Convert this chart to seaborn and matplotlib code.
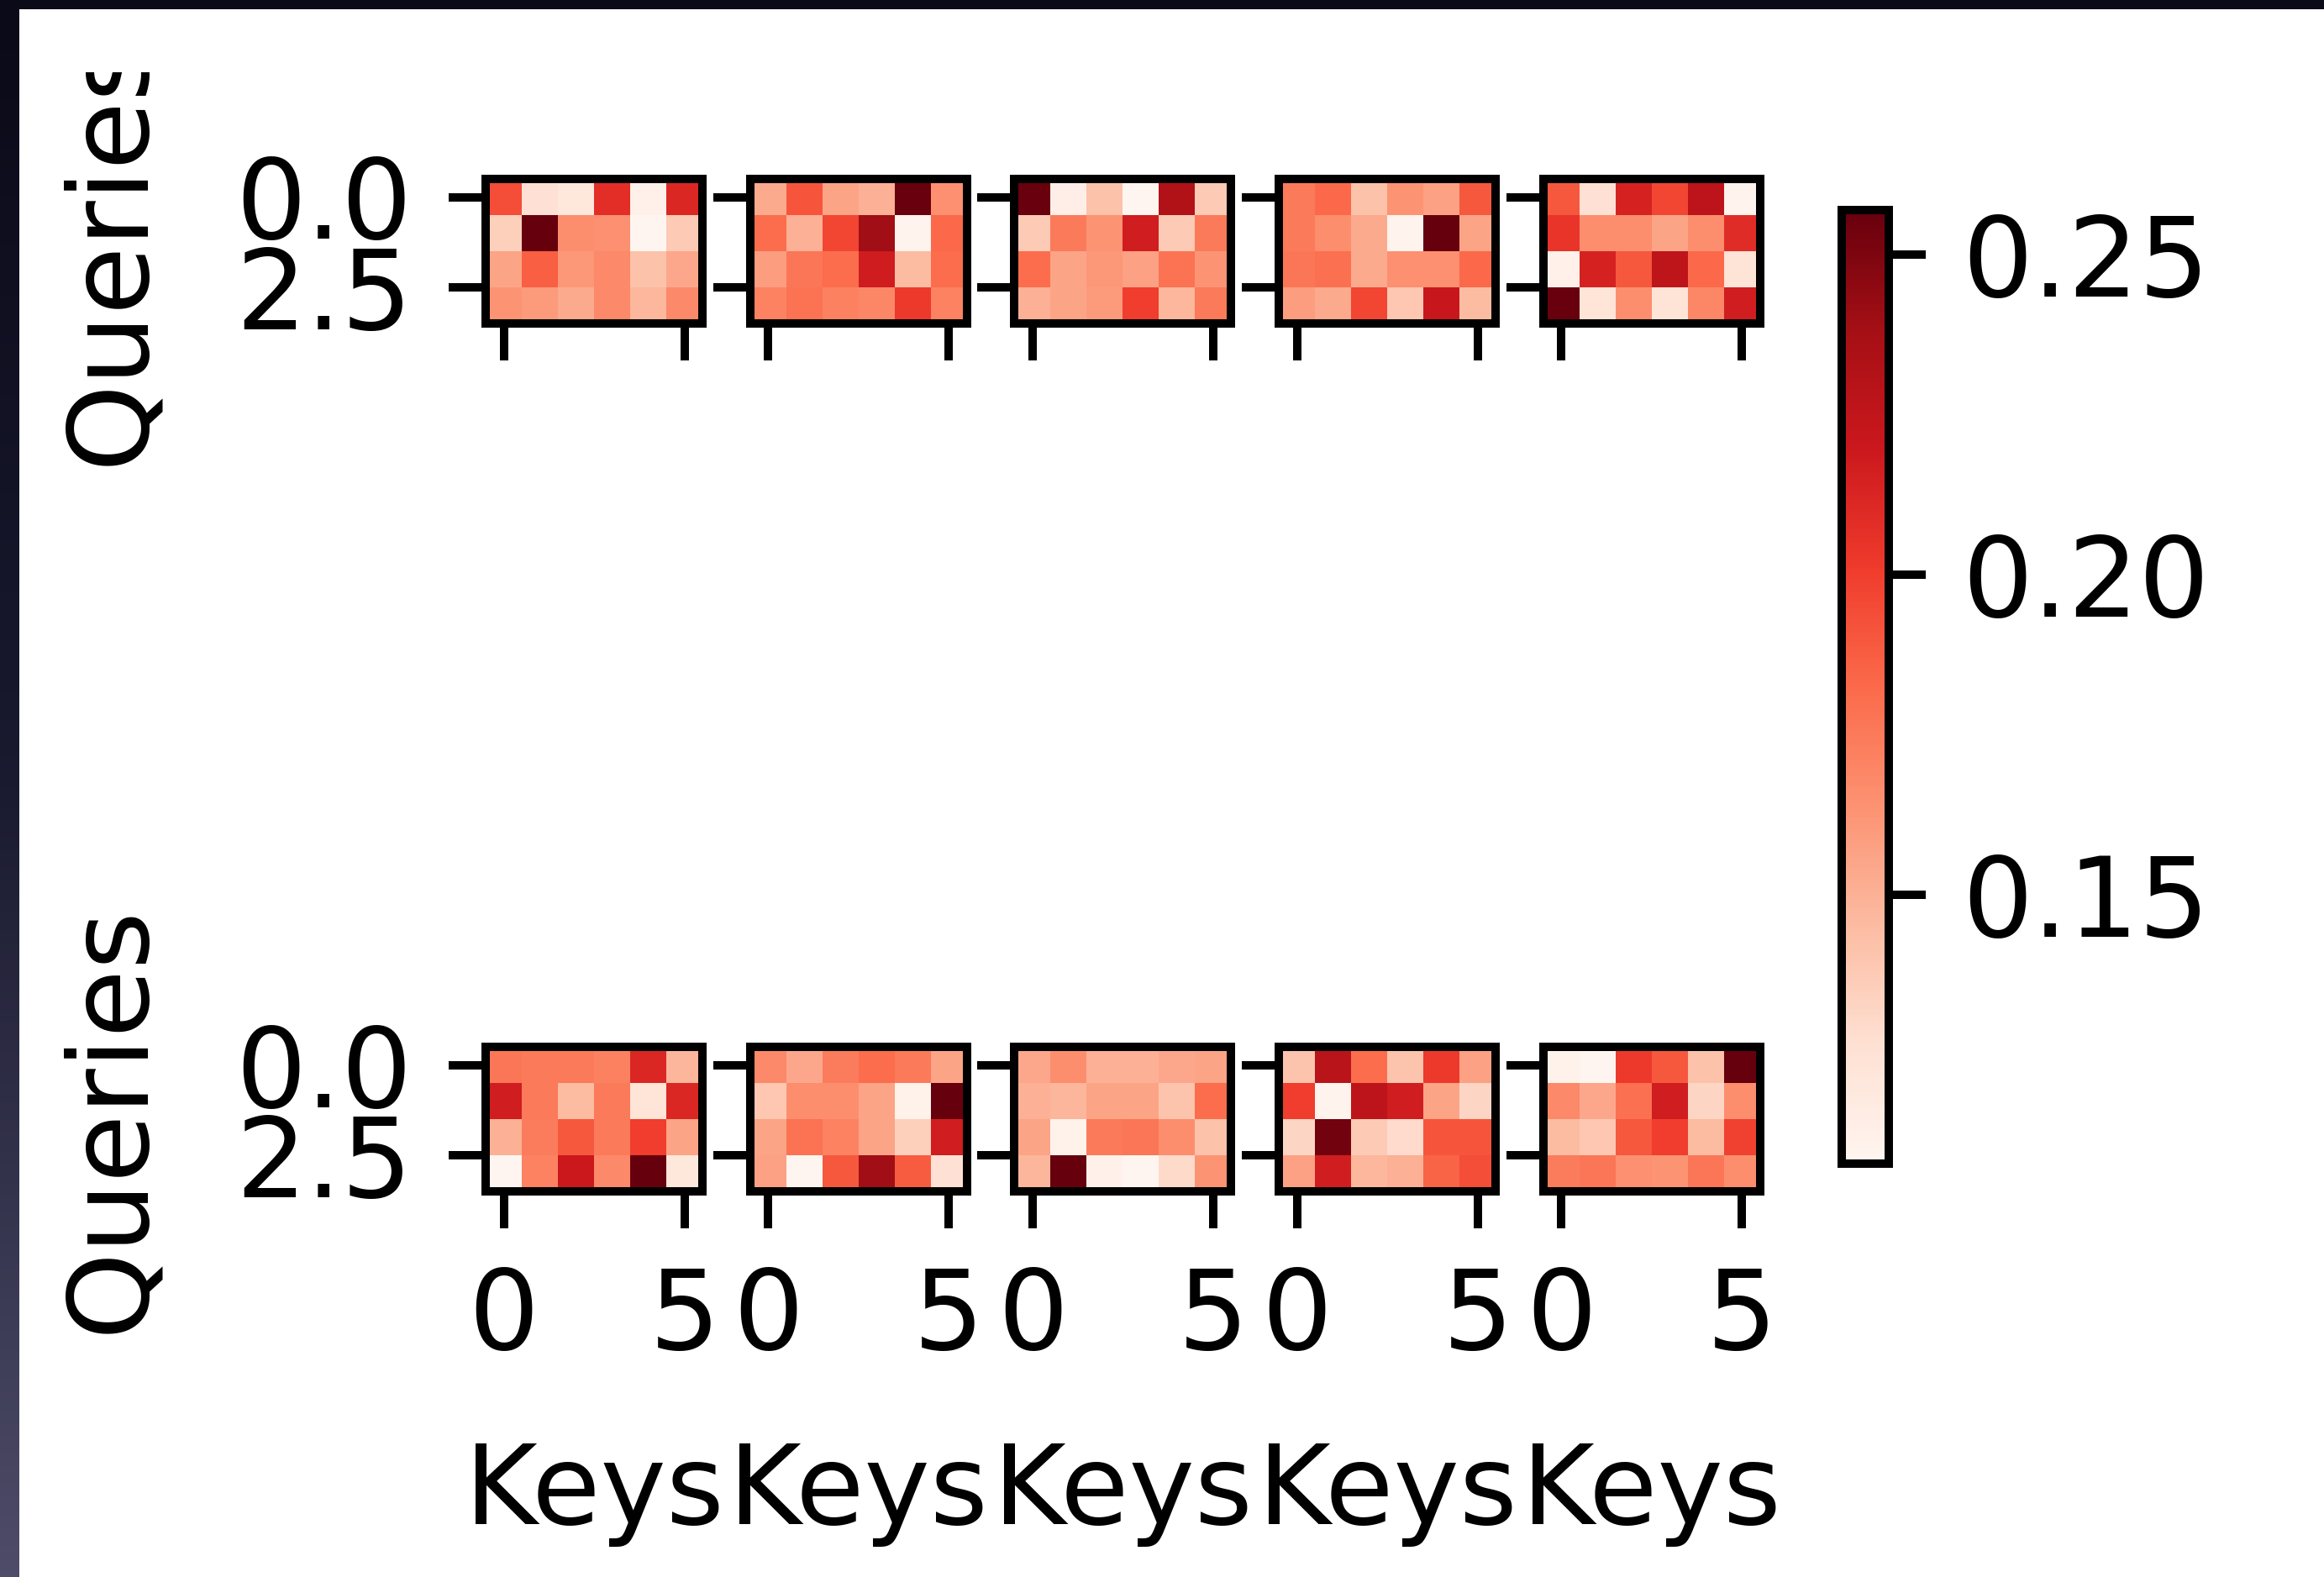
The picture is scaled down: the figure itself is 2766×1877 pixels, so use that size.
import numpy as np
import matplotlib
matplotlib.use("Agg")
import matplotlib.pyplot as plt
import seaborn as sns
from matplotlib.patches import Rectangle
from matplotlib.colors import LinearSegmentedColormap

# attention weights: 2 rows x 5 heads, each 4 queries x 6 keys
top_1 = [[0.194, 0.126, 0.121, 0.208, 0.112, 0.212],
         [0.135, 0.257, 0.166, 0.165, 0.108, 0.138],
         [0.156, 0.187, 0.162, 0.168, 0.142, 0.154],
         [0.163, 0.160, 0.153, 0.168, 0.147, 0.168]]
top_2 = [[0.153, 0.191, 0.156, 0.150, 0.256, 0.165],
         [0.181, 0.150, 0.197, 0.239, 0.110, 0.183],
         [0.159, 0.177, 0.181, 0.218, 0.145, 0.181],
         [0.171, 0.178, 0.172, 0.169, 0.202, 0.171]]
top_3 = [[0.256, 0.114, 0.142, 0.108, 0.233, 0.138],
         [0.138, 0.175, 0.163, 0.217, 0.138, 0.175],
         [0.181, 0.156, 0.162, 0.157, 0.178, 0.163],
         [0.150, 0.156, 0.160, 0.200, 0.147, 0.175]]
top_4 = [[0.175, 0.183, 0.142, 0.163, 0.157, 0.190],
         [0.175, 0.166, 0.153, 0.110, 0.257, 0.156],
         [0.177, 0.180, 0.153, 0.165, 0.165, 0.183],
         [0.159, 0.153, 0.197, 0.139, 0.221, 0.145]]
top_5 = [[0.190, 0.126, 0.214, 0.197, 0.227, 0.110],
         [0.205, 0.166, 0.166, 0.156, 0.166, 0.209],
         [0.112, 0.214, 0.190, 0.226, 0.183, 0.124],
         [0.256, 0.123, 0.166, 0.124, 0.169, 0.217]]
bot_1 = [[0.177, 0.175, 0.175, 0.172, 0.212, 0.148],
         [0.217, 0.175, 0.145, 0.175, 0.123, 0.212],
         [0.150, 0.174, 0.190, 0.175, 0.200, 0.156],
         [0.108, 0.171, 0.220, 0.168, 0.257, 0.121]]
bot_2 = [[0.168, 0.154, 0.174, 0.181, 0.175, 0.156],
         [0.139, 0.166, 0.166, 0.156, 0.111, 0.257],
         [0.156, 0.178, 0.171, 0.156, 0.135, 0.217],
         [0.157, 0.108, 0.190, 0.239, 0.188, 0.126]]
bot_3 = [[0.154, 0.166, 0.150, 0.150, 0.154, 0.156],
         [0.150, 0.148, 0.156, 0.156, 0.141, 0.181],
         [0.156, 0.111, 0.175, 0.177, 0.166, 0.142],
         [0.148, 0.257, 0.112, 0.108, 0.130, 0.163]]
bot_4 = [[0.141, 0.229, 0.181, 0.141, 0.202, 0.157],
         [0.200, 0.110, 0.227, 0.217, 0.156, 0.132],
         [0.132, 0.254, 0.138, 0.129, 0.191, 0.191],
         [0.157, 0.217, 0.147, 0.150, 0.185, 0.194]]
bot_5 = [[0.111, 0.108, 0.202, 0.190, 0.142, 0.257],
         [0.168, 0.154, 0.180, 0.217, 0.132, 0.166],
         [0.145, 0.139, 0.190, 0.200, 0.145, 0.199],
         [0.174, 0.177, 0.165, 0.163, 0.177, 0.166]]

key_ticks = [0, 5]
key_labels = ["0", "5"]
query_ticks = [0.0, 2.5]
query_labels = ["0.0", "2.5"]
cbar_ticks = [0.15, 0.20, 0.25]

maps = [[top_1, top_2, top_3, top_4, top_5],
        [bot_1, bot_2, bot_3, bot_4, bot_5]]
vmin = min(np.min(m) for row in maps for m in row)
vmax = max(np.max(m) for row in maps for m in row)

plt.rcParams["font.size"] = 10.6

W, H = 2766, 1877
dpi = 900
fig = plt.figure(figsize=(W / dpi, H / dpi), dpi=dpi, facecolor="white")

ax_w, ax_h = 258, 172
tops = [213, 1246]
for r in range(2):
    for c in range(5):
        left = 578 + 314.7 * c
        ax = fig.add_axes([left / W, 1 - (tops[r] + ax_h) / H, ax_w / W, ax_h / H])
        sns.heatmap(np.array(maps[r][c]), ax=ax, cmap="Reds", vmin=vmin, vmax=vmax,
                    cbar=False, xticklabels=False, yticklabels=False)
        for s in ax.spines.values():
            s.set_visible(True)
            s.set_linewidth(0.8)
        # imshow-style coordinates: cell centres
        ax.set_xticks([k + 0.5 for k in key_ticks])
        ax.set_yticks([q + 0.5 for q in query_ticks])
        if c == 0:
            ax.set_yticklabels(query_labels, rotation=0)
            ax.set_ylabel("Queries")
            ax.yaxis.set_label_coords(-1.48, 0.5)
        else:
            ax.set_yticklabels([])
        if r == 1:
            ax.set_xticklabels(key_labels, rotation=0)
            ax.set_xlabel("Keys", labelpad=6.5)
        else:
            ax.set_xticklabels([])

cb_top, cb_bot = 250, 1385
cax = fig.add_axes([2192 / W, 1 - cb_bot / H, 56 / W, (cb_bot - cb_top) / H])
cb = fig.colorbar(ax.collections[0], cax=cax, ticks=cbar_ticks)
cb.ax.set_yticklabels([f"{t:.2f}" for t in cbar_ticks])
cb.outline.set_linewidth(0.8)

# the original image was cropped at the top, cutting the first "Queries"
fig.add_artist(Rectangle((0, 1 - 86 / H), 0.3, 86 / H, transform=fig.transFigure,
                         facecolor="white", edgecolor="none", zorder=5))

# dark screenshot frame on the left and top
band = fig.add_axes([0, 0, 23 / W, 1], zorder=10)
grad = LinearSegmentedColormap.from_list("frame", ["#0a0a18", "#1a1a30", "#4e4c68"])
band.imshow(np.linspace(0, 1, 256).reshape(-1, 1), cmap=grad, aspect="auto")
band.set_axis_off()
fig.add_artist(Rectangle((0, 1 - 11 / H), 1, 11 / H, transform=fig.transFigure,
                         facecolor="#0a0a18", edgecolor="none", zorder=11))

fig.savefig("out.png", dpi=dpi, facecolor="white")
